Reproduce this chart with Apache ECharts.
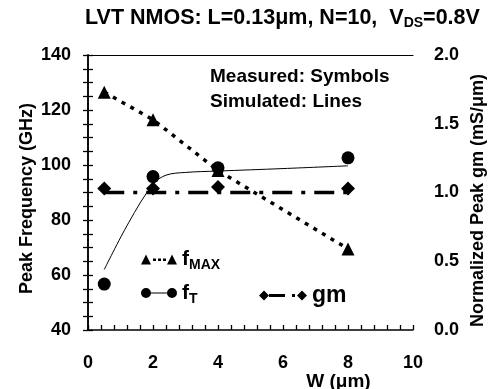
<!DOCTYPE html>
<html><head><meta charset="utf-8">
<script src="https://cdn.jsdelivr.net/npm/echarts@6/dist/echarts.min.js"></script>
<style>html,body{margin:0;padding:0;background:#fff}#c{width:494px;height:389px}</style>
</head><body><div id="c"></div>
<script>
// Measured (symbols)
var fmaxMeasured = [[0.5,126.5],[2,116.5],[4,98],[8,69.5]];
var ftMeasured = [[0.5,56.7],[2,95.8],[4,99],[8,102.6]];
var gmMeasured = [[0.5,1.03],[2,1.03],[4,1.04],[8,1.03]];
// Simulated (lines)
var fmaxSim = [[0.5,126.5],[2,116.5],[4,98],[8,69.5]];
var ftSim = [[0.5,62],[1.25,79],[2,93],[2.4,96.3],[3,97.3],[4,97.8],[6,98.7],[8,99.7]];
var gmSim = [[0.5,1.0],[2,1.0],[4,1.0],[8,1.0]];
// Axes ticks
var xTicks = [0,2,4,6,8,10];
var leftTicks = [40,60,80,100,120,140];
var rightTicks = [0.0,0.5,1.0,1.5,2.0];

var FONT = '"Liberation Sans", Arial, sans-serif';
var chart = echarts.init(document.getElementById('c'), null, {renderer:'canvas'});
var iconFmax = 'path://M0 10 L5 0 L10 10 Z M12 4 L15 4 L15 6.5 L12 6.5 Z M17 4 L20 4 L20 6.5 L17 6.5 Z M22 4 L25 4 L25 6.5 L22 6.5 Z M26 10 L31 0 L36 10 Z';
var iconFt = 'path://M0 5 A5 5 0 1 1 10 5 A5 5 0 1 1 0 5 Z M10 4.4 L26 4.4 L26 5.6 L10 5.6 Z M26 5 A5 5 0 1 1 36 5 A5 5 0 1 1 26 5 Z';
var iconGm = 'path://M0 5 L5 0 L10 5 L5 10 Z M10 3.6 L26 3.6 L26 6.4 L10 6.4 Z M33 3.6 L36 3.6 L36 6.4 L33 6.4 Z M38 5 L43 0 L48 5 L43 10 Z';
var rich = {
  f:{fontSize:21,fontWeight:'bold',fontFamily:FONT,color:'#000'},
  s:{fontSize:14,fontWeight:'bold',fontFamily:FONT,color:'#000',padding:[12,0,0,0]},
  g:{fontSize:23,fontWeight:'bold',fontFamily:FONT,color:'#000'}
};
function legFmt(n){ if(n==='fMAX') return '{f|f}{s|MAX}'; if(n==='fT') return '{f|f}{s|T}'; return '{g|gm}'; }
function labelEvery(step, dec){
  return function(v){ var r = Math.round(v/step*1000)/1000; return Math.abs(r-Math.round(r))<1e-6 ? v.toFixed(dec) : ''; };
}
var axisLbl = {fontSize:18,fontWeight:'bold',fontFamily:FONT,color:'#000'};
var tickStyle = {color:'#000',width:1.3};
chart.setOption({
  animation:false,
  backgroundColor:'#fff',
  title:{text:'LVT NMOS: L=0.13\u03bcm, N=10,  V{s|DS}=0.8V', left:80, top:1,
    textStyle:{fontSize:21.5,fontWeight:'bold',fontFamily:FONT,color:'#000',
      rich:{s:{fontSize:14,fontWeight:'bold',fontFamily:FONT,color:'#000',padding:[10,0,0,0]}}}},
  grid:{left:88,right:81,top:55,bottom:59,containLabel:false,outerBoundsMode:'none'},
  legend:[
    {orient:'vertical',left:136,top:244,itemGap:10,itemWidth:36,itemHeight:10,
     data:[{name:'fMAX',icon:iconFmax},{name:'fT',icon:iconFt}],
     formatter:legFmt,textStyle:{rich:rich},selectedMode:false},
    {orient:'vertical',left:254,top:279,itemWidth:48,itemHeight:10,
     data:[{name:'gm',icon:iconGm}],formatter:legFmt,textStyle:{rich:rich},selectedMode:false}
  ],
  graphic:[
    {type:'text',left:210,top:67,style:{text:'Measured: Symbols',font:'bold 19px '+FONT,fill:'#000'}},
    {type:'text',left:210,top:92,style:{text:'Simulated: Lines',font:'bold 19px '+FONT,fill:'#000'}}
  ],
  xAxis:[
    {type:'value',min:xTicks[0],max:xTicks[xTicks.length-1],interval:0.4,position:'bottom',
    name:'W (\u03bcm)',nameLocation:'middle',nameGap:42,nameMoveOverlap:false,
    nameTextStyle:{fontSize:19,fontWeight:'bold',fontFamily:FONT,color:'#000',padding:[0,0,0,176]},
    axisLine:{onZero:false,lineStyle:{color:'#000',width:1.5}},
    axisTick:{inside:true,length:5,lineStyle:tickStyle},
    axisLabel:Object.assign({margin:24,formatter:labelEvery(2,0),showMinLabel:true,showMaxLabel:true},axisLbl),splitLine:{show:false}},
    {type:'value',min:xTicks[0],max:xTicks[xTicks.length-1],interval:2,position:'top',
    axisLine:{show:true,onZero:false,lineStyle:{color:'#000',width:1.2}},
    axisTick:{show:false},axisLabel:{show:false},splitLine:{show:false}}
  ],
  yAxis:[
    {type:'value',min:leftTicks[0],max:leftTicks[leftTicks.length-1],interval:5,position:'left',
     name:'Peak Frequency (GHz)',nameLocation:'middle',nameGap:52,nameMoveOverlap:false,
     nameTextStyle:{fontSize:18,fontWeight:'bold',fontFamily:FONT,color:'#000',padding:[0,12,0,0]},
     axisLine:{show:true,lineStyle:{color:'#000',width:1.5}},
     axisTick:{inside:true,length:5,lineStyle:tickStyle},
     axisLabel:Object.assign({margin:17,formatter:labelEvery(20,0)},axisLbl),splitLine:{show:false}},
    {type:'value',min:rightTicks[0],max:rightTicks[rightTicks.length-1],interval:0.1,position:'right',
     name:'Normalized Peak gm (mS/\u03bcm)',nameLocation:'middle',nameGap:56,nameRotate:90,nameMoveOverlap:false,
     nameTextStyle:{fontSize:18,fontWeight:'bold',fontFamily:FONT,color:'#000',padding:[0,16,0,0]},
     axisLine:{show:true,lineStyle:{color:'#000',width:1.5}},
     axisTick:{inside:true,length:5,lineStyle:tickStyle},
     axisLabel:Object.assign({margin:21,formatter:labelEvery(0.5,1)},axisLbl),splitLine:{show:false}}
  ],
  series:[
    {name:'fMAX-sim',type:'line',data:fmaxSim,symbol:'none',lineStyle:{color:'#000',width:3.5,type:[4,6]},z:2},
    {name:'ft-sim',type:'line',data:ftSim,symbol:'none',smooth:0.35,lineStyle:{color:'#000',width:1},z:2},
    {name:'gm-sim',type:'line',yAxisIndex:1,data:gmSim,symbol:'none',lineStyle:{color:'#000',width:3.5,type:[20,9,4,9]},z:2},
    {name:'fMAX',type:'scatter',data:fmaxMeasured,symbol:'triangle',symbolSize:13,itemStyle:{color:'#000',opacity:1},z:3},
    {name:'fT',type:'scatter',data:ftMeasured,symbol:'circle',symbolSize:13,itemStyle:{color:'#000',opacity:1},z:4},
    {name:'gm',type:'scatter',yAxisIndex:1,data:gmMeasured,symbol:'diamond',symbolSize:14,itemStyle:{color:'#000',opacity:1},z:4}
  ]
});
</script></body></html>
